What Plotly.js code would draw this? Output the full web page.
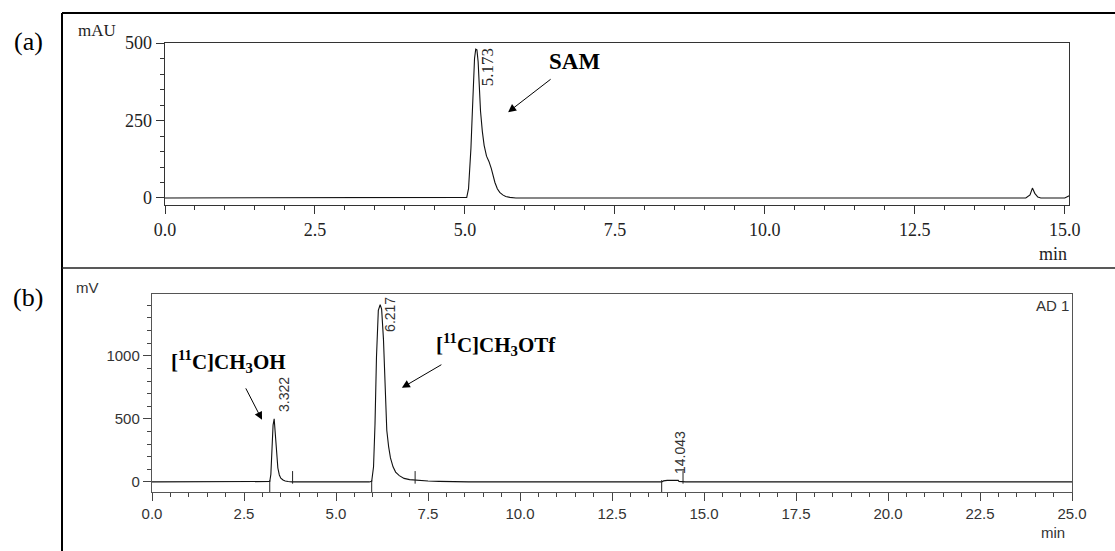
<!DOCTYPE html>
<html>
<head>
<meta charset="utf-8">
<script src="https://cdn.plot.ly/plotly-3.0.1.min.js"></script>
<style>html,body{margin:0;padding:0;background:#fff;}#chart{width:1115px;height:551px;}</style>
</head>
<body>
<div id="chart"></div>
<script>
// Panel (a): UV chromatogram (mAU vs min)
const timeA = [0, 5.0, 5.03, 5.06, 5.08, 5.1, 5.12, 5.14, 5.16, 5.18, 5.2, 5.22, 5.24, 5.26, 5.29, 5.32, 5.36, 5.4, 5.44, 5.47, 5.5, 5.54, 5.58, 5.63, 5.68, 5.75, 5.85, 14.35, 14.42, 14.46, 14.5, 14.55, 14.6, 15.0, 15.05, 15.1, 15.15];
const signalA = [0, 0, 2, 30, 80, 160, 260, 370, 450, 480, 478, 440, 360, 280, 215, 170, 135, 118, 95, 72, 50, 30, 18, 10, 5, 2, 0, 0, 10, 32, 15, 3, 0, 0, 5, 10, 12];

// Panel (b): radio chromatogram (mV vs min)
const timeB = [0, 3.15, 3.2, 3.23, 3.26, 3.29, 3.32, 3.35, 3.38, 3.42, 3.46, 3.5, 3.56, 3.62, 3.7, 3.8, 5.9, 5.97, 6.02, 6.06, 6.1, 6.15, 6.2, 6.24, 6.29, 6.33, 6.38, 6.43, 6.48, 6.55, 6.62, 6.72, 6.85, 7.0, 7.2, 7.5, 7.8, 8.2, 8.6, 13.85, 13.9, 14.0, 14.3, 14.32, 14.45, 14.5, 25];
const signalB = [0, 0, 3, 60, 250, 450, 500, 400, 250, 110, 55, 30, 15, 7, 3, 0, 0, 5, 120, 460, 990, 1360, 1405, 1370, 1130, 730, 410, 280, 190, 120, 78, 50, 28, 18, 12, 7, 4, 2, 0, 0, 8, 12, 12, 4, 3, 0, 0];
const integStart = [3.2, 5.97, 13.85];
const integEnd = [3.82, 7.15, 14.43];

// Labels
const peakA = {t: 5.173, label: "5.173"};
const peaksB = [{t: 3.322, label: "3.322"}, {t: 6.217, label: "6.217"}, {t: 14.043, label: "14.043"}];
const xTicksA = [0, 2.5, 5, 7.5, 10, 12.5, 15];
const xTicksB = [0, 2.5, 5, 7.5, 10, 12.5, 15, 17.5, 20, 22.5, 25];

const W = 1115, H = 551;
const px = v => v / W;
const py = v => 1 - v / H;

const tickMark = {symbol: 'line-ns', size: 9, line: {color: '#222', width: 1}};
const traces = [
  {x: timeA, y: signalA, xaxis: 'x', yaxis: 'y', mode: 'lines', line: {color: '#111', width: 1.1}, hoverinfo: 'skip'},
  {x: timeB, y: signalB, xaxis: 'x2', yaxis: 'y2', mode: 'lines', line: {color: '#111', width: 1.1}, hoverinfo: 'skip'},
  {x: integStart, y: integStart.map(() => -36), xaxis: 'x2', yaxis: 'y2', mode: 'markers', marker: tickMark, hoverinfo: 'skip'},
  {x: integEnd, y: integEnd.map(() => 36), xaxis: 'x2', yaxis: 'y2', mode: 'markers', marker: tickMark, hoverinfo: 'skip'}
];

const serif = 'Liberation Serif, Times New Roman, serif';
const sans = 'Liberation Sans, Arial, sans-serif';

const commonAx = {showgrid: false, zeroline: false, showline: true, mirror: true, ticks: 'outside', fixedrange: true};

function note(o) {
  return Object.assign({showarrow: false, xanchor: 'center', yanchor: 'middle'}, o);
}

const layout = {
  width: W, height: H,
  margin: {l: 0, r: 0, t: 0, b: 0},
  paper_bgcolor: '#fff', plot_bgcolor: '#fff',
  showlegend: false,
  xaxis: Object.assign({}, commonAx, {
    domain: [px(165), px(1069)], range: [0, 15.07], anchor: 'y',
    tickmode: 'array', tickvals: xTicksA, ticktext: xTicksA.map(v => v.toFixed(1)),
    ticklen: 8, tickwidth: 1, tickcolor: '#333', linecolor: '#333', linewidth: 1.3,
    tickfont: {family: serif, size: 18, color: '#222'},
    minor: {dtick: 0.5, tick0: 0, ticklen: 4, ticks: 'outside', tickcolor: '#333', tickwidth: 1}
  }),
  yaxis: Object.assign({}, commonAx, {
    domain: [py(205), py(43)], range: [-22.6, 500], anchor: 'x',
    tick0: 0, dtick: 250,
    ticklen: 8, tickwidth: 1, tickcolor: '#333', linecolor: '#333', linewidth: 1.3,
    tickfont: {family: serif, size: 18, color: '#222'},
    minor: {dtick: 50, tick0: 0, ticklen: 4, ticks: 'outside', tickcolor: '#333', tickwidth: 1}
  }),
  xaxis2: Object.assign({}, commonAx, {
    domain: [px(152), px(1072)], range: [0, 25], anchor: 'y2',
    tickmode: 'array', tickvals: xTicksB, ticktext: xTicksB.map(v => v.toFixed(1)),
    ticklen: 8, tickwidth: 1, tickcolor: '#444', linecolor: '#555', linewidth: 1.2,
    tickfont: {family: sans, size: 15, color: '#333'},
    minor: {dtick: 0.5, tick0: 0, ticklen: 4, ticks: 'outside', tickcolor: '#444', tickwidth: 1}
  }),
  yaxis2: Object.assign({}, commonAx, {
    domain: [py(492), py(294)], range: [-80, 1490], anchor: 'x2',
    tick0: 0, dtick: 500,
    ticklen: 8, tickwidth: 1, tickcolor: '#444', linecolor: '#555', linewidth: 1.2,
    tickfont: {family: sans, size: 15, color: '#333'},
    minor: {dtick: 100, tick0: 0, ticklen: 4, ticks: 'outside', tickcolor: '#444', tickwidth: 1}
  }),
  shapes: [
    {type: 'line', xref: 'paper', yref: 'paper', x0: px(62), x1: px(62), y0: py(13), y1: 0, line: {color: '#000', width: 2}},
    {type: 'line', xref: 'paper', yref: 'paper', x0: px(62), x1: 1, y0: py(13), y1: py(13), line: {color: '#000', width: 2}},
    {type: 'line', xref: 'paper', yref: 'paper', x0: px(62), x1: 1, y0: py(268), y1: py(268), line: {color: '#222', width: 1.3}}
  ],
  annotations: [
    // panel labels
    note({xref: 'paper', yref: 'paper', x: px(28), y: py(42), text: '(a)', font: {family: serif, size: 26, color: '#000'}}),
    note({xref: 'paper', yref: 'paper', x: px(28), y: py(297), text: '(b)', font: {family: serif, size: 26, color: '#000'}}),
    // axis unit labels
    note({xref: 'paper', yref: 'paper', x: px(97), y: py(31), text: 'mAU', font: {family: serif, size: 17, color: '#222'}}),
    note({xref: 'paper', yref: 'paper', x: px(1053), y: py(254), text: 'min', font: {family: serif, size: 18, color: '#222'}}),
    note({xref: 'paper', yref: 'paper', x: px(87), y: py(287), text: 'mV', font: {family: sans, size: 15, color: '#333'}}),
    note({xref: 'paper', yref: 'paper', x: px(1053), y: py(532), text: 'min', font: {family: sans, size: 15, color: '#333'}}),
    note({xref: 'paper', yref: 'paper', x: px(1052), y: py(305), text: 'AD 1', font: {family: sans, size: 15, color: '#333'}}),
    // peak retention-time labels
    note({xref: 'x', yref: 'y', x: 5.38, y: 421, text: peakA.label, textangle: -90, font: {family: serif, size: 17, color: '#222'}}),
    note({xref: 'x2', yref: 'y2', x: 3.59, y: 690, text: peaksB[0].label, textangle: -90, font: {family: sans, size: 14, color: '#333'}}),
    note({xref: 'x2', yref: 'y2', x: 6.47, y: 1325, text: peaksB[1].label, textangle: -90, font: {family: sans, size: 14, color: '#333'}}),
    note({xref: 'x2', yref: 'y2', x: 14.35, y: 230, text: peaksB[2].label, textangle: -90, font: {family: sans, size: 14, color: '#333'}}),
    // compound names
    note({xref: 'x', yref: 'y', x: 6.83, y: 439, text: '<b>SAM</b>', font: {family: serif, size: 23, color: '#000'}}),
    note({xref: 'x2', yref: 'y2', x: 2.09, y: 952, text: '<b>[<sup>11</sup>C]CH<sub>3</sub>OH</b>', font: {family: serif, size: 21, color: '#000'}}),
    note({xref: 'x2', yref: 'y2', x: 9.35, y: 1087, text: '<b>[<sup>11</sup>C]CH<sub>3</sub>OTf</b>', font: {family: serif, size: 21, color: '#000'}}),
    // arrows
    {xref: 'x', yref: 'y', x: 5.72, y: 277, ax: 44, ay: -34, text: '', showarrow: true, arrowhead: 2, arrowsize: 1.6, arrowwidth: 1, arrowcolor: '#000'},
    {xref: 'x2', yref: 'y2', x: 2.99, y: 492, ax: -17, ay: -33, text: '', showarrow: true, arrowhead: 2, arrowsize: 1.6, arrowwidth: 1, arrowcolor: '#000'},
    {xref: 'x2', yref: 'y2', x: 6.79, y: 746, ax: 41, ay: -24, text: '', showarrow: true, arrowhead: 2, arrowsize: 1.6, arrowwidth: 1, arrowcolor: '#000'}
  ]
};

Plotly.newPlot('chart', traces, layout, {staticPlot: true, displayModeBar: false});
</script>
</body>
</html>
